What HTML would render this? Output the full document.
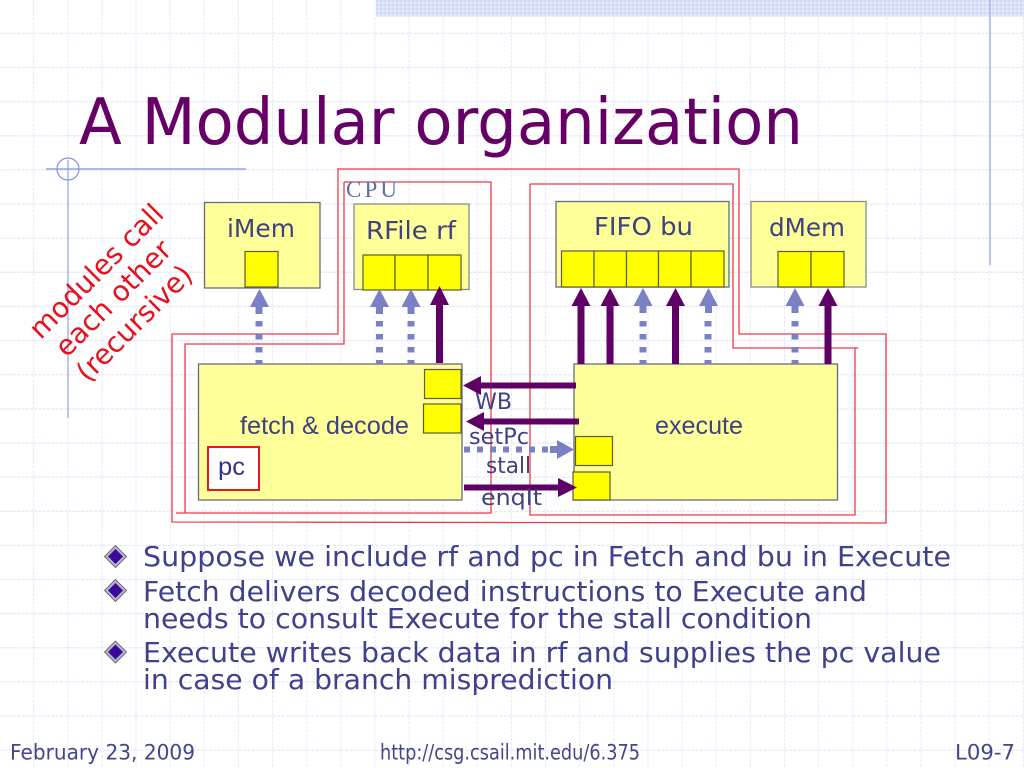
<!DOCTYPE html>
<html><head><meta charset="utf-8"><style>html,body{margin:0;padding:0;background:#fff;width:1024px;height:768px;overflow:hidden}svg{display:block}
.d{font-family:"DejaVu Sans",sans-serif}.l{font-family:"Liberation Sans",sans-serif}.s{font-family:"Liberation Serif",serif}</style></head><body>
<svg width="1024" height="768" viewBox="0 0 1024 768" xmlns="http://www.w3.org/2000/svg">
<defs>
<pattern id="g" width="34.13" height="34.13" patternUnits="userSpaceOnUse"><path d="M0 33.6H34.13M33.9 0V34.13" stroke="#e6e8fa" stroke-width="1.6" stroke-dasharray="3 1.3" fill="none"/></pattern>
<pattern id="dz" width="4" height="4" patternUnits="userSpaceOnUse"><rect width="4" height="4" fill="#dbe3fa"/><rect width="2" height="2" fill="#cfd9f6"/><rect x="2" y="2" width="2" height="2" fill="#e6ebfc"/></pattern>
</defs>
<rect width="1024" height="768" fill="#fff"/>
<rect width="1024" height="768" fill="url(#g)"/>
<rect x="376" y="0" width="648" height="16.500" fill="url(#dz)"/>
<path d="M990 0V265" stroke="#a9b5e8" stroke-width="1.500" fill="none"/>
<path d="M68 160V418" stroke="#a9b5e8" stroke-width="1.500" fill="none"/>
<path d="M46 169H246" stroke="#7f92e0" stroke-width="1.200" fill="none"/>
<circle cx="68" cy="169" r="11" stroke="#7f92e0" stroke-width="1.200" fill="none"/>

<text class="d" x="79" y="144" font-size="64" fill="#660066" textLength="724" lengthAdjust="spacingAndGlyphs">A Modular organization</text>

<g fill="none" stroke="#ee3a44" stroke-width="1.300">
<path d="M338 169H739V334H886V523L172 522V334H338Z"/>
<path d="M344 182H491V513H176M185 513V344H344V182"/>
<path d="M530 184H733V348H858M855 348V515H530V184"/>
</g>

<text class="s" x="346" y="197" font-size="23" fill="#5f6ea3" textLength="51" lengthAdjust="spacing">CPU</text>

<g stroke="#666a80" stroke-width="1.300">
<rect x="204.500" y="202.500" width="115.500" height="85.500" fill="#ffff99"/>
<rect x="354" y="204" width="115" height="85.500" fill="#ffff99" stroke="#8a8a8a"/>
<rect x="556" y="201.500" width="173" height="85.500" fill="#ffff99"/>
<rect x="751" y="201.500" width="115" height="85.500" fill="#ffff99" stroke="#8a8a8a"/>
<rect x="198.500" y="364" width="263.500" height="136" fill="#ffff99"/>
<rect x="574" y="364" width="263.500" height="136" fill="#ffff99"/>
</g>
<g fill="#ffff00" stroke="#5c5c30" stroke-width="1.200">
<rect x="245" y="251.500" width="33" height="35.500"/>
<rect x="363" y="255" width="32" height="35"/><rect x="395" y="255" width="33" height="35"/><rect x="428" y="255" width="33" height="35"/>
<rect x="561.500" y="251" width="32.500" height="36"/><rect x="594" y="251" width="32.500" height="36"/><rect x="626.500" y="251" width="32" height="36"/><rect x="658.500" y="251" width="32.500" height="36"/><rect x="691" y="251" width="33" height="36"/>
<rect x="778" y="251.500" width="33" height="35.500"/><rect x="811" y="251.500" width="33" height="35.500"/>
<rect x="424.500" y="369.500" width="36.500" height="29"/><rect x="423.500" y="404" width="37.500" height="29"/>
<rect x="575.500" y="436.500" width="37" height="29"/><rect x="573" y="472" width="37" height="28"/>
</g>
<rect x="208" y="447" width="51" height="43" fill="#fff" stroke="#e8181c" stroke-width="2"/>

<!-- dashed up arrows -->
<g stroke="#7a80c4" stroke-width="7" stroke-dasharray="5.500 7.500" fill="none">
<path d="M259 321V364M379.500 321V364M411 321V364M643 321V364M708 321V364M795 321V364"/>
</g>
<g fill="#7a80c4">
<path d="M259.500 289L269 307H262.500V314H255.500V307H250Z"/>
<path d="M379.500 289L389 307H383V314H376V307H370Z"/>
<path d="M411 289L420.500 307H414.500V314H407.500V307H401.500Z"/>
<path d="M643 288L652.500 306H646.500V313H639.500V306H633.500Z"/>
<path d="M708.500 288L718 306H712V313H705V306H699Z"/>
<path d="M795 288L804.500 306H798.500V313H791.500V306H785.500Z"/>
<path d="M574 449.500L557 459V453H550V446H557V440Z"/>
</g>
<path d="M464 449.500H550" stroke="#7a80c4" stroke-width="6" stroke-dasharray="6 7" fill="none"/>

<!-- solid arrows -->
<g fill="#5f0066">
<path d="M439.500 286L449 305H443V363H436V305H430Z"/>
<path d="M581 288L590.500 306H584.500V364H577.500V306H571.500Z"/>
<path d="M610 288L619.500 306H613.500V364H606.500V306H600.500Z"/>
<path d="M675.500 288L685 306H679V364H672V306H666Z"/>
<path d="M828 288L837.500 306H831.500V364H824.500V306H818.500Z"/>
<path d="M463 385.500L481 376V382.500H576V388.500H481V395Z"/>
<path d="M466 421.500L484 412V418.500H579V424.500H484V431Z"/>
<path d="M577 487.500L558 478V484.500H464V490.500H558V497Z"/>
</g>

<g fill="#3f4180">
<text class="d" x="227" y="237" font-size="25" textLength="68" lengthAdjust="spacingAndGlyphs">iMem</text>
<text class="d" x="366" y="239" font-size="25" textLength="90" lengthAdjust="spacingAndGlyphs">RFile rf</text>
<text class="d" x="594" y="235" font-size="25" textLength="99" lengthAdjust="spacingAndGlyphs">FIFO bu</text>
<text class="d" x="769" y="236" font-size="25" textLength="76" lengthAdjust="spacingAndGlyphs">dMem</text>
<text class="l" x="240" y="434" font-size="25" textLength="169" lengthAdjust="spacingAndGlyphs">fetch &amp; decode</text>
<text class="l" x="655" y="434" font-size="25" textLength="88" lengthAdjust="spacingAndGlyphs">execute</text>
<text class="l" x="218" y="475" font-size="25" fill="#2f3488" textLength="27" lengthAdjust="spacingAndGlyphs">pc</text>
<text class="d" x="475" y="409" font-size="22.500" textLength="37" lengthAdjust="spacingAndGlyphs">WB</text>
<text class="d" x="469" y="444" font-size="22.500" textLength="60" lengthAdjust="spacingAndGlyphs">setPc</text>
<text class="d" x="486" y="473" font-size="22.500" textLength="45" lengthAdjust="spacingAndGlyphs">stall</text>
<text class="d" x="481" y="505" font-size="22.500" textLength="61" lengthAdjust="spacingAndGlyphs">enqIt</text>
</g>

<g class="d" font-size="28" fill="#e8101c" text-anchor="middle">
<text transform="translate(103,278) rotate(-45)">modules call</text>
<text transform="translate(120,305) rotate(-45)">each other</text>
<text transform="translate(141,330) rotate(-45)">(recursive)</text>
</g>

<g class="d" fill="#3f418c" font-size="27.500">
<text x="143" y="566" textLength="808" lengthAdjust="spacingAndGlyphs">Suppose we include rf and pc in Fetch and bu in Execute</text>
<text x="143" y="601" textLength="724" lengthAdjust="spacingAndGlyphs">Fetch delivers decoded instructions to Execute and</text>
<text x="143" y="628" textLength="669" lengthAdjust="spacingAndGlyphs">needs to consult Execute for the stall condition</text>
<text x="143" y="662" textLength="798" lengthAdjust="spacingAndGlyphs">Execute writes back data in rf and supplies the pc value</text>
<text x="143" y="689" textLength="470" lengthAdjust="spacingAndGlyphs">in case of a branch misprediction</text>
</g>
<g>
<path d="M115.500 545.500L126.500 556.500L115.500 567.500L104.500 556.500Z" fill="#b8b4d0" stroke="#555" stroke-width=".8"/><path d="M115.500 549L123 556.500L115.500 564L108 556.500Z" fill="#3a0a99"/>
<path d="M115.500 579.500L126.500 590.500L115.500 601.500L104.500 590.500Z" fill="#b8b4d0" stroke="#555" stroke-width=".8"/><path d="M115.500 583L123 590.500L115.500 598L108 590.500Z" fill="#3a0a99"/>
<path d="M115.500 641L126.500 652L115.500 663L104.500 652Z" fill="#b8b4d0" stroke="#555" stroke-width=".8"/><path d="M115.500 644.500L123 652L115.500 659.500L108 652Z" fill="#3a0a99"/>
</g>

<g class="d" fill="#45468a" font-size="21">
<text x="10" y="759.500" textLength="185" lengthAdjust="spacingAndGlyphs">February 23, 2009</text>
<text x="380" y="759.500" textLength="260" lengthAdjust="spacingAndGlyphs">http://csg.csail.mit.edu/6.375</text>
<text x="955" y="759.500" textLength="60" lengthAdjust="spacingAndGlyphs">L09-7</text>
</g>
</svg>
</body></html>
